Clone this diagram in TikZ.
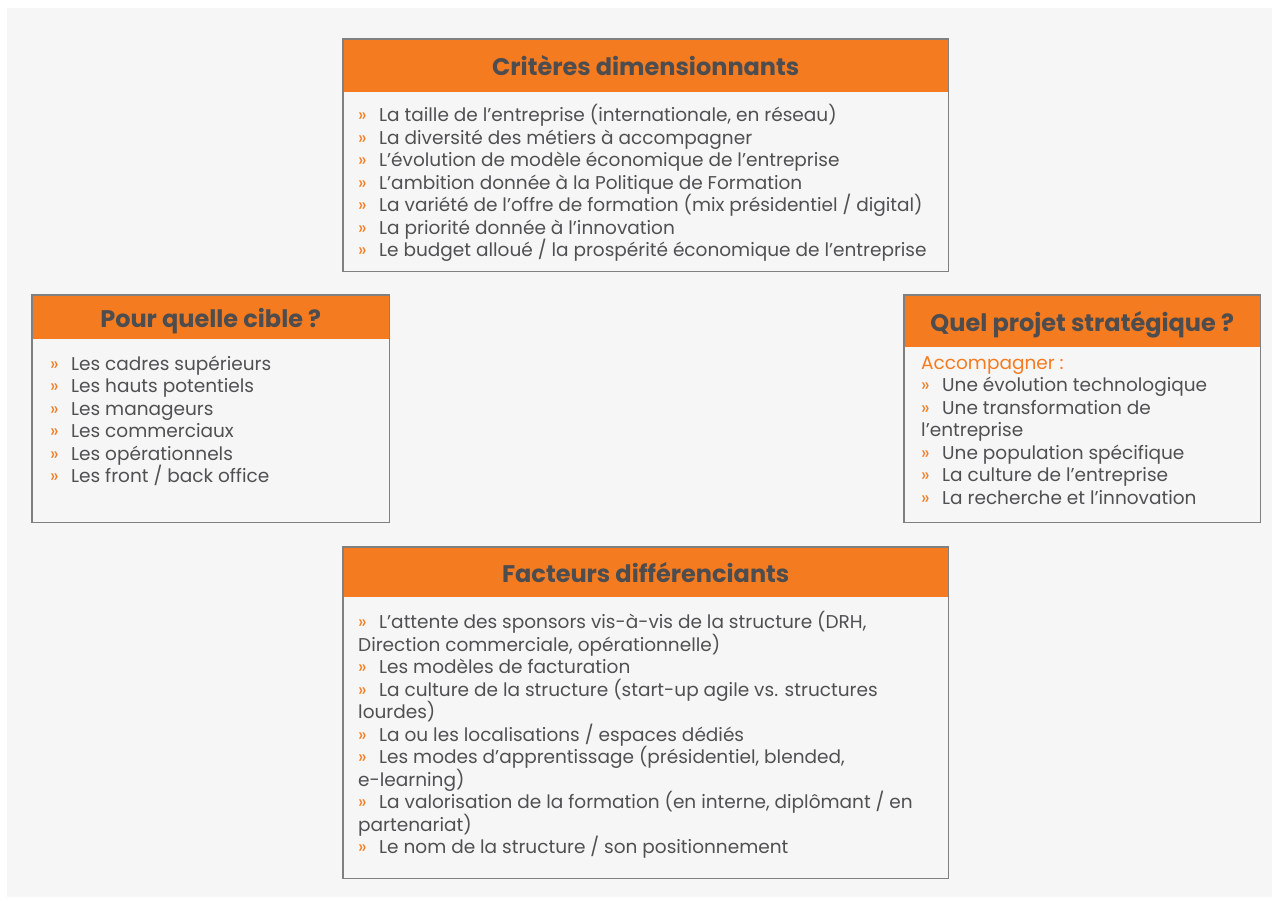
\documentclass[tikz,border=0pt]{standalone}
\usepackage{fontspec}
\setmainfont{Poppins}
\usepackage{tikz}
\usetikzlibrary{positioning}

\definecolor{accent}{HTML}{F47B20}
\definecolor{titlegray}{HTML}{4D4D4F}
\definecolor{inkgray}{HTML}{505052}
\definecolor{bggray}{HTML}{F6F6F6}
\definecolor{framegray}{HTML}{808080}
\newcommand{\puce}{\makebox[21pt][l]{\color{accent}»}}

\begin{document}
\begin{tikzpicture}[x=1pt,y=1pt,
  head/.style={fill=accent, text=titlegray, inner sep=0pt, anchor=north west,
    text height=20pt, text depth=0pt,
    font=\fontsize{24}{28}\selectfont\bfseries},
  body/.style={fill=bggray, inner sep=0pt},
  frame/.style={draw=framegray, line width=1.2pt},
  list/.style={inner sep=0pt, anchor=north west, align=left, text=inkgray,
    font=\fontsize{18.5}{22.5}\selectfont}]

\useasboundingbox (0,0) rectangle (1279,900);
\fill[white] (0,0) rectangle (1279,900);
\fill[bggray] (7,3) rectangle (1272,892);

% criteres
\node[head, minimum width=605pt, minimum height=53pt] (crit) at (343,861) {Critères dimensionnants};
\node[body, below=0pt of crit, minimum width=605pt, minimum height=179pt] (critbody) {};
\draw[frame] (crit.north west) rectangle (critbody.south east);
\node[list, below right=12pt and 15pt of critbody.north west] (critlist) {%
\puce La taille de l’entreprise (internationale, en réseau)\\
\puce La diversité des métiers à accompagner\\
\puce L’évolution de modèle économique de l’entreprise\\
\puce L’ambition donnée à la Politique de Formation\\
\puce La variété de l’offre de formation (mix présidentiel / digital)\\
\puce La priorité donnée à l’innovation\\
\puce Le budget alloué / la prospérité économique de l’entreprise};

% cible
\node[head, minimum width=357pt, minimum height=44pt] (cible) at (32,605) {Pour quelle cible ?};
\node[body, below=0pt of cible, minimum width=357pt, minimum height=183pt] (ciblebody) {};
\draw[frame] (cible.north west) rectangle (ciblebody.south east);
\node[list, below right=16pt and 18pt of ciblebody.north west] (ciblelist) {%
\puce Les cadres supérieurs\\
\puce Les hauts potentiels\\
\puce Les manageurs\\
\puce Les commerciaux\\
\puce Les opérationnels\\
\puce Les front / back office};

% projet
\node[head, minimum width=356pt, minimum height=52pt] (projet) at (904,605) {Quel projet stratégique ?};
\node[body, below=0pt of projet, minimum width=356pt, minimum height=175pt] (projetbody) {};
\draw[frame] (projet.north west) rectangle (projetbody.south east);
\node[list, below right=9pt and 17pt of projetbody.north west] (projetlist) {%
{\color{accent}Accompagner :}\\
\puce Une évolution technologique\\
\puce Une transformation de\\
l’entreprise\\
\puce Une population spécifique\\
\puce La culture de l’entreprise\\
\puce La recherche et l’innovation};

% facteurs
\node[head, minimum width=605pt, minimum height=50pt] (fact) at (343,353) {Facteurs différenciants};
\node[body, below=0pt of fact, minimum width=605pt, minimum height=281pt] (factbody) {};
\draw[frame] (fact.north west) rectangle (factbody.south east);
\node[list, below right=14pt and 15pt of factbody.north west] (factlist) {%
\puce L’attente des sponsors vis-à-vis de la structure (DRH,\\
Direction commerciale, opérationnelle)\\
\puce Les modèles de facturation\\
\puce La culture de la structure (start-up agile vs. structures\\
lourdes)\\
\puce La ou les localisations / espaces dédiés\\
\puce Les modes d’apprentissage (présidentiel, blended,\\
e-learning)\\
\puce La valorisation de la formation (en interne, diplômant / en\\
partenariat)\\
\puce Le nom de la structure / son positionnement};
\end{tikzpicture}
\end{document}
